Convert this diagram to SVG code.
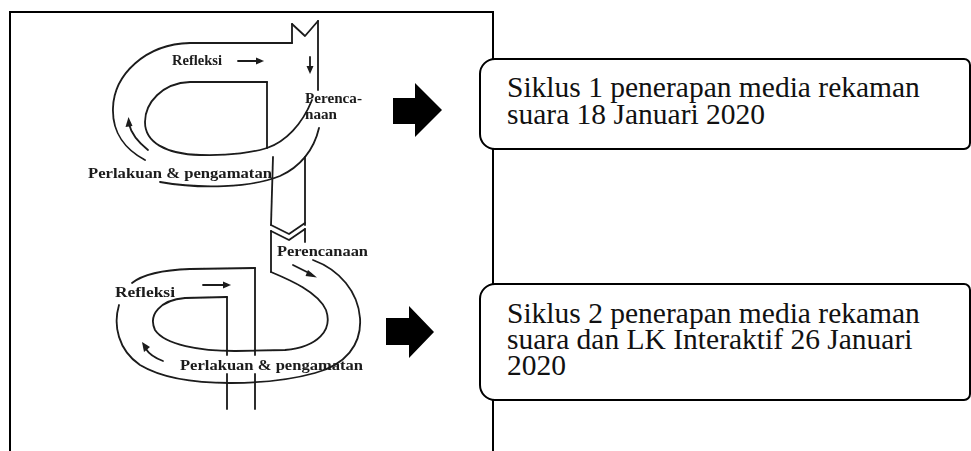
<svg xmlns="http://www.w3.org/2000/svg" width="971" height="451" viewBox="0 0 971 451">
  <style>
    .frame { fill: none; stroke: #000; stroke-width: 2; }
    .box { fill: #fff; stroke: #000; stroke-width: 2; }
    .boxtext { font-family: "Liberation Serif", "Times New Roman", serif; font-size: 29.5px; fill: #111; }
    .ink { fill: none; stroke: #1a1a1a; stroke-width: 1.8; stroke-linecap: round; stroke-linejoin: round; }
    .inkfill { fill: #1a1a1a; stroke: none; }
    .label { font-family: "Liberation Serif", "Times New Roman", serif; font-size: 14px; font-weight: bold; fill: #1a1a1a; }
    .block { fill: #000; }
  </style>
  <defs>
    <filter id="soft" x="-5%" y="-5%" width="110%" height="110%">
      <feGaussianBlur stdDeviation="0.5"/>
    </filter>
  </defs>

  <rect width="971" height="451" fill="#fff"/>

  <!-- outer frame around the spiral picture (open at the bottom) -->
  <g id="frame">
    <path class="frame" d="M10,452 V12 H493 V452"/>
  </g>

  <!-- first cycle of the action-research spiral -->
  <g id="cycle-1" filter="url(#soft)">
    <path class="ink" d="M292,24 L305,36 L318,21"/>
    <path class="ink" d="M292,24 V43"/>
    <path class="ink" d="M318,21 V90"/>
    <path class="ink" d="M292,43 H190 C145,44 114,75 113,108 C112,133 126,150 145,160"/>
    <path class="ink" d="M267,82 H190 C162,83 145,103 145,122 C145,142 165,154 200,155 C230,156 255,152 267,148 C285,142 302,125 312,100"/>
    <path class="ink" d="M267,82 V148"/>
    <path class="ink" d="M160,182 C200,189 250,188 280,176 C300,167 314,150 319,128"/>
    <path class="ink" d="M273,157 L271,225"/>
    <path class="ink" d="M305,157 V225"/>
    <!-- small direction arrows -->
    <path class="ink" d="M238,61 H258"/>
    <polygon class="inkfill" points="256,57.5 264,61 256,64.5"/>
    <path class="ink" d="M310,57 V68"/>
    <polygon class="inkfill" points="306.5,66 310,74 313.5,66"/>
    <path class="ink" d="M148,150 C138,142 131,133 129,124"/>
    <polygon class="inkfill" points="125.5,127 128.5,117 132.5,126"/>
    <text class="label" x="172" y="65" textLength="50" lengthAdjust="spacingAndGlyphs">Refleksi</text>
    <text class="label" x="305" y="103" textLength="57" lengthAdjust="spacingAndGlyphs">Perenca-</text>
    <text class="label" x="305" y="119" textLength="32" lengthAdjust="spacingAndGlyphs">naan</text>
    <text class="label" x="88" y="178" textLength="184" lengthAdjust="spacingAndGlyphs">Perlakuan &amp; pengamatan</text>
  </g>

  <!-- second cycle of the spiral -->
  <g id="cycle-2" filter="url(#soft)">
    <path class="ink" d="M271,225 L289,234 L305,223"/>
    <path class="ink" d="M271,231 L289,240 L305,229"/>
    <path class="ink" d="M271,231 V272"/>
    <path class="ink" d="M305,229 V242"/>
    <path class="ink" d="M271,272 C290,280 318,292 326,310 C333,330 318,347 285,350 L235,351 C200,351 165,345 155,330 C148,315 160,300 185,298 L227,297"/>
    <path class="ink" d="M227,297 V355 M227,374 V409"/>
    <path class="ink" d="M255,268 V355 M255,374 V409"/>
    <path class="ink" d="M313,260 C340,270 358,292 360,318 C362,345 345,365 315,373 C290,380 260,383 230,383 C190,383 160,377 140,365 C118,350 113,325 119,305"/>
    <path class="ink" d="M132,283 C142,275 160,270 190,269 L255,268"/>
    <!-- small direction arrows -->
    <path class="ink" d="M203,285 H225"/>
    <polygon class="inkfill" points="223,281.5 231,285 223,288.5"/>
    <path class="ink" d="M293,265 L311,274"/>
    <polygon class="inkfill" points="308,270 317,277.5 305.5,276"/>
    <path class="ink" d="M163,361 C155,358 149,354 146,349"/>
    <polygon class="inkfill" points="142,342 150,347 144,352"/>
    <text class="label" x="115" y="297" textLength="60" lengthAdjust="spacingAndGlyphs">Refleksi</text>
    <text class="label" x="277" y="256" textLength="91" lengthAdjust="spacingAndGlyphs">Perencanaan</text>
    <text class="label" x="180" y="370" textLength="183" lengthAdjust="spacingAndGlyphs">Perlakuan &amp; pengamatan</text>
  </g>

  <!-- block arrows leading to the cycle notes -->
  <g id="connectors">
    <polygon class="block" points="393,98 415,98 415,83 442,110 415,137 415,124 393,124"/>
    <polygon class="block" points="386,318 409,318 409,306 434,332 409,358 409,345 386,345"/>
  </g>

  <g id="box-1">
    <path class="box" d="M495,59 H964 A6,6 0 0 1 970,65 V143 A6,6 0 0 1 964,149 H495 A15,15 0 0 1 480,134 V74 A15,15 0 0 1 495,59 Z"/>
    <text class="boxtext" x="507" y="97">Siklus 1 penerapan media rekaman</text>
    <text class="boxtext" x="507" y="124">suara 18 Januari 2020</text>
  </g>

  <g id="box-2">
    <path class="box" d="M495,284 H964 A6,6 0 0 1 970,290 V394 A6,6 0 0 1 964,400 H495 A15,15 0 0 1 480,385 V299 A15,15 0 0 1 495,284 Z"/>
    <text class="boxtext" x="507" y="323">Siklus 2 penerapan media rekaman</text>
    <text class="boxtext" x="507" y="349">suara dan LK Interaktif 26 Januari</text>
    <text class="boxtext" x="507" y="375">2020</text>
  </g>
</svg>
